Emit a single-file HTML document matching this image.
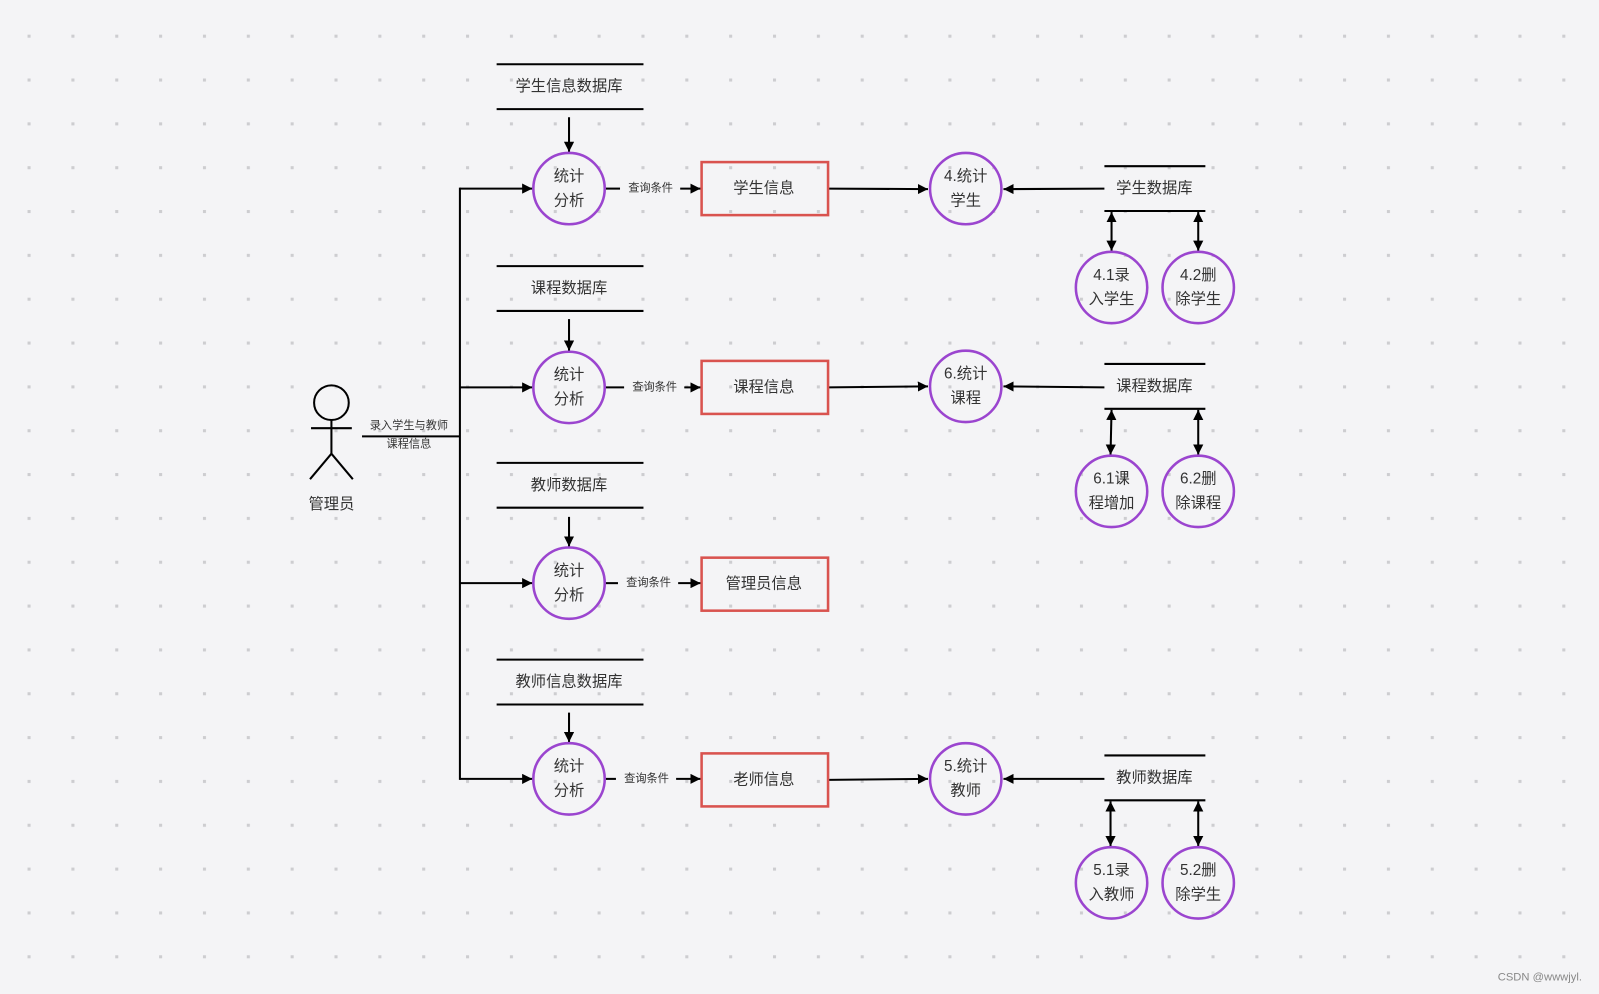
<!DOCTYPE html>
<html><head><meta charset="utf-8"><style>
html,body{margin:0;padding:0;background:#f4f4f6;}
svg{display:block}
text{font-family:"Liberation Sans","Noto Sans CJK SC",sans-serif;fill:#333;text-anchor:middle;dominant-baseline:central}
</style></head><body>
<svg width="1599" height="994" viewBox="0 0 1568 975" preserveAspectRatio="none" xmlns="http://www.w3.org/2000/svg">
<defs>
<pattern id="d" x="27" y="34" width="43" height="43" patternUnits="userSpaceOnUse"><rect width="3" height="3" fill="#cdcdd0"/></pattern>
<marker id="a" viewBox="0 0 10 10" refX="10" refY="5" markerWidth="10" markerHeight="10" markerUnits="userSpaceOnUse" orient="auto-start-reverse"><path d="M0,0L10,5L0,10z" fill="#000"/></marker>
</defs>
<rect width="1568" height="975" fill="#f4f4f6"/>
<rect x="20" y="30" width="1530" height="915" fill="url(#d)"/>
<g stroke="#000" stroke-width="2" fill="none">
<!-- actor -->
<circle cx="325" cy="395" r="17"/>
<line x1="325" y1="412" x2="325" y2="445"/>
<line x1="305" y1="420" x2="345" y2="420"/>
<line x1="325" y1="445" x2="304" y2="470"/><line x1="325" y1="445" x2="346" y2="470"/>
<line x1="355" y1="428" x2="451" y2="428"/>
<line x1="451" y1="184" x2="451" y2="765"/>
</g>
<text x="325" y="495" font-size="15">管理员</text>
<text x="401" y="418" font-size="11">录入学生与教师</text>
<text x="401" y="436" font-size="11">课程信息</text>
<g id="rows" stroke="#000" stroke-width="2" fill="none">
<!-- row stores left -->
<line x1="487" y1="63" x2="631" y2="63"/><line x1="487" y1="107" x2="631" y2="107"/>
<line x1="487" y1="261" x2="631" y2="261"/><line x1="487" y1="305" x2="631" y2="305"/>
<line x1="487" y1="454" x2="631" y2="454"/><line x1="487" y1="498" x2="631" y2="498"/>
<line x1="487" y1="647" x2="631" y2="647"/><line x1="487" y1="691" x2="631" y2="691"/>
<line x1="558" y1="115" x2="558" y2="149" marker-end="url(#a)"/>
<line x1="558" y1="313" x2="558" y2="344" marker-end="url(#a)"/>
<line x1="558" y1="507" x2="558" y2="536" marker-end="url(#a)"/>
<line x1="558" y1="699" x2="558" y2="728" marker-end="url(#a)"/>
<line x1="451" y1="185" x2="522" y2="185" marker-end="url(#a)"/>
<line x1="451" y1="380" x2="522" y2="380" marker-end="url(#a)"/>
<line x1="451" y1="572" x2="522" y2="572" marker-end="url(#a)"/>
<line x1="451" y1="764" x2="522" y2="764" marker-end="url(#a)"/>
<line x1="594" y1="185" x2="608" y2="185"/><line x1="667" y1="185" x2="687" y2="185" marker-end="url(#a)"/>
<line x1="594" y1="380" x2="612" y2="380"/><line x1="671" y1="380" x2="687" y2="380" marker-end="url(#a)"/>
<line x1="594" y1="572" x2="606" y2="572"/><line x1="665" y1="572" x2="687" y2="572" marker-end="url(#a)"/>
<line x1="594" y1="764" x2="604" y2="764"/><line x1="663" y1="764" x2="687" y2="764" marker-end="url(#a)"/>
<line x1="812" y1="185" x2="910" y2="185.5" marker-end="url(#a)"/>
<line x1="812" y1="380" x2="910" y2="379" marker-end="url(#a)"/>
<line x1="812" y1="765" x2="910" y2="764" marker-end="url(#a)"/>
<line x1="1083" y1="185" x2="984" y2="185.5" marker-end="url(#a)"/>
<line x1="1083" y1="380" x2="984" y2="379" marker-end="url(#a)"/>
<line x1="1083" y1="764" x2="984" y2="764" marker-end="url(#a)"/>
<!-- right stores -->
<line x1="1083" y1="163" x2="1182" y2="163"/><line x1="1083" y1="207" x2="1182" y2="207"/>
<line x1="1083" y1="357" x2="1182" y2="357"/><line x1="1083" y1="401" x2="1182" y2="401"/>
<line x1="1083" y1="741" x2="1182" y2="741"/><line x1="1083" y1="785" x2="1182" y2="785"/>
<line x1="1090" y1="208" x2="1090" y2="246" marker-start="url(#a)" marker-end="url(#a)"/>
<line x1="1175" y1="208" x2="1175" y2="246" marker-start="url(#a)" marker-end="url(#a)"/>
<line x1="1090" y1="402" x2="1089" y2="446" marker-start="url(#a)" marker-end="url(#a)"/>
<line x1="1175" y1="402" x2="1175" y2="446" marker-start="url(#a)" marker-end="url(#a)"/>
<line x1="1089" y1="786" x2="1089" y2="830" marker-start="url(#a)" marker-end="url(#a)"/>
<line x1="1175" y1="786" x2="1175" y2="830" marker-start="url(#a)" marker-end="url(#a)"/>
</g>
<g stroke="#9b45cf" stroke-width="2.5" fill="none">
<circle cx="558" cy="185" r="35"/><circle cx="558" cy="380" r="35"/><circle cx="558" cy="572" r="35"/><circle cx="558" cy="764" r="35"/>
<circle cx="947" cy="185" r="35"/><circle cx="947" cy="379" r="35"/><circle cx="947" cy="764" r="35"/>
<circle cx="1090" cy="282" r="35"/><circle cx="1175" cy="282" r="35"/>
<circle cx="1090" cy="482" r="35"/><circle cx="1175" cy="482" r="35"/>
<circle cx="1090" cy="866" r="35"/><circle cx="1175" cy="866" r="35"/>
</g>
<g stroke="#d9534f" stroke-width="2.5" fill="none">
<rect x="688" y="159" width="124" height="52"/><rect x="688" y="354" width="124" height="52"/>
<rect x="688" y="547" width="124" height="52"/><rect x="688" y="739" width="124" height="52"/>
</g>
<g font-size="15">
<text x="558" y="85">学生信息数据库</text><text x="558" y="283">课程数据库</text>
<text x="558" y="476">教师数据库</text><text x="558" y="669">教师信息数据库</text>
<text x="1132" y="185">学生数据库</text><text x="1132" y="379">课程数据库</text><text x="1132" y="763">教师数据库</text>
<text x="749" y="185">学生信息</text><text x="749" y="380">课程信息</text><text x="749" y="573">管理员信息</text><text x="749" y="765">老师信息</text>
<text x="558" y="173">统计</text><text x="558" y="197">分析</text>
<text x="558" y="368">统计</text><text x="558" y="392">分析</text>
<text x="558" y="560">统计</text><text x="558" y="584">分析</text>
<text x="558" y="752">统计</text><text x="558" y="776">分析</text>
<text x="947" y="173">4.统计</text><text x="947" y="197">学生</text>
<text x="947" y="367">6.统计</text><text x="947" y="391">课程</text>
<text x="947" y="752">5.统计</text><text x="947" y="776">教师</text>
<text x="1090" y="270">4.1录</text><text x="1090" y="294">入学生</text>
<text x="1175" y="270">4.2删</text><text x="1175" y="294">除学生</text>
<text x="1090" y="470">6.1课</text><text x="1090" y="494">程增加</text>
<text x="1175" y="470">6.2删</text><text x="1175" y="494">除课程</text>
<text x="1090" y="854">5.1录</text><text x="1090" y="878">入教师</text>
<text x="1175" y="854">5.2删</text><text x="1175" y="878">除学生</text>
</g>
<g font-size="11">
<text x="638" y="185">查询条件</text><text x="642" y="380">查询条件</text>
<text x="636" y="572">查询条件</text><text x="634" y="764">查询条件</text>
</g>
<text x="1510" y="959" font-size="11" fill="#888" style="fill:#888">CSDN @wwwjyl.</text>
</svg>
</body></html>
